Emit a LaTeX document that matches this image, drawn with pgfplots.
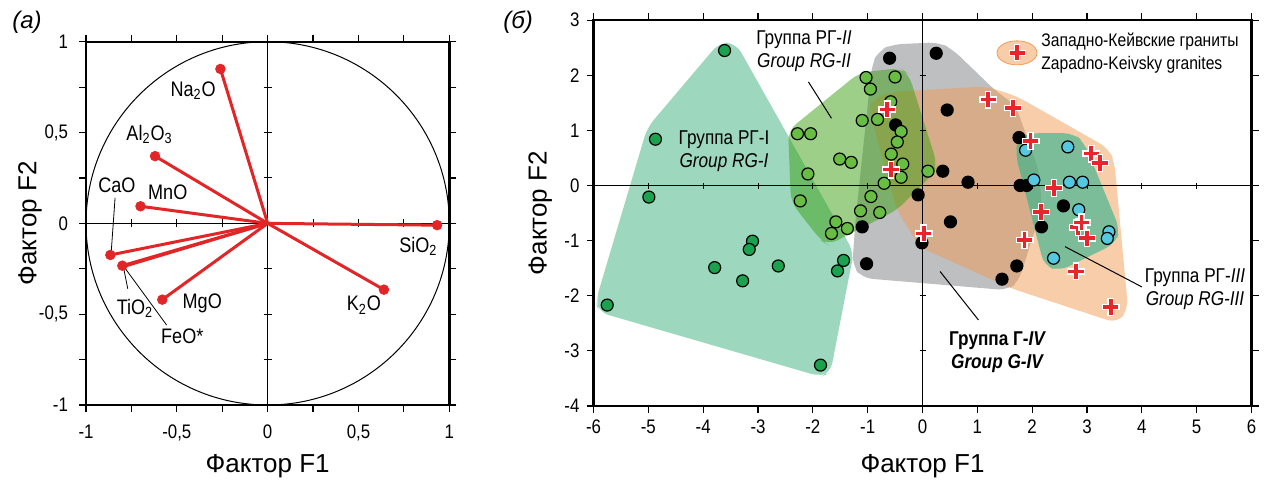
\documentclass[border=0pt]{standalone}
\usepackage{fontspec}
\setmainfont{Liberation Sans}
\newfontfamily\narrow[FakeStretch=0.86]{Liberation Sans}
\usepackage{pgfplots}
\pgfplotsset{compat=1.18}

\definecolor{vecred}{RGB}{226,38,40}
\definecolor{crossred}{RGB}{232,36,44}
\definecolor{rgIfill}{RGB}{60,175,125}
\definecolor{rgIIfill}{RGB}{60,160,20}
\definecolor{gIVfill}{RGB}{125,127,131}
\definecolor{zkfill}{RGB}{240,155,85}
\definecolor{rgIIIfill}{RGB}{40,180,140}
\definecolor{rgImark}{RGB}{28,162,78}
\definecolor{rgIImark}{RGB}{104,190,66}
\definecolor{rgIIImark}{RGB}{85,200,225}

\pgfdeclareplotmark{bigplus}{%
\pgfpathmoveto{\pgfpoint{-0.3\pgfplotmarksize}{-\pgfplotmarksize}}%
\pgfpathlineto{\pgfpoint{0.3\pgfplotmarksize}{-\pgfplotmarksize}}%
\pgfpathlineto{\pgfpoint{0.3\pgfplotmarksize}{-0.3\pgfplotmarksize}}%
\pgfpathlineto{\pgfpoint{\pgfplotmarksize}{-0.3\pgfplotmarksize}}%
\pgfpathlineto{\pgfpoint{\pgfplotmarksize}{0.3\pgfplotmarksize}}%
\pgfpathlineto{\pgfpoint{0.3\pgfplotmarksize}{0.3\pgfplotmarksize}}%
\pgfpathlineto{\pgfpoint{0.3\pgfplotmarksize}{\pgfplotmarksize}}%
\pgfpathlineto{\pgfpoint{-0.3\pgfplotmarksize}{\pgfplotmarksize}}%
\pgfpathlineto{\pgfpoint{-0.3\pgfplotmarksize}{0.3\pgfplotmarksize}}%
\pgfpathlineto{\pgfpoint{-\pgfplotmarksize}{0.3\pgfplotmarksize}}%
\pgfpathlineto{\pgfpoint{-\pgfplotmarksize}{-0.3\pgfplotmarksize}}%
\pgfpathlineto{\pgfpoint{-0.3\pgfplotmarksize}{-0.3\pgfplotmarksize}}%
\pgfpathclose
\pgfusepathqfillstroke}

\pgfplotsset{
  myframe/.style={
    scale only axis,
    axis line style={line width=1.2pt},
    tick style={black, line width=0.6pt},
    tick align=outside,
    major tick length=3.5pt,
    minor tick length=3.5pt,
    ticklabel style={font=\narrow\fontsize{9.8}{11}\selectfont},
    label style={font=\fontsize{13}{15}\selectfont},
  },
  vec/.style={vecred, line width=1.5pt},
  poly/.style={draw=none, fill opacity=0.5, rounded corners=5pt},
}

% ---------- data ----------
\pgfplotstableread{
x y
-3.61 2.45
-4.87 0.84
-4.99 -0.21
-5.75 -2.17
-3.10 -1.01
-3.16 -1.16
-3.79 -1.49
-3.28 -1.73
-2.63 -1.46
-1.44 -1.36
-1.55 -1.55
-1.86 -3.26
}\rgI
\pgfplotstableread{
x y
-1.03 1.96
-0.95 1.75
-0.50 1.97
-2.28 0.94
-2.04 0.94
-1.10 1.18
-0.82 1.20
-0.58 1.52
-0.39 0.98
-0.46 0.79
-0.57 0.57
-1.51 0.48
-1.30 0.42
-0.36 0.39
-0.39 0.15
-0.70 0.04
-2.09 0.21
-2.23 -0.28
-0.94 -0.20
-1.13 -0.46
-0.78 -0.49
-1.58 -0.66
-1.37 -0.78
-1.66 -0.87
0.10 0.26
}\rgII
\pgfplotstableread{
x y
-0.60 2.31
0.25 2.40
0.45 1.37
-0.49 1.10
0.37 0.26
0.83 0.06
1.76 0.87
1.78 0.00
1.90 0.00
-0.08 -0.17
0.51 -0.66
-1.10 -0.75
-0.01 -1.04
-1.02 -1.42
1.45 -1.70
1.72 -1.46
2.57 -0.37
2.17 -0.75
}\gIV
\pgfplotstableread{
x y
1.88 0.64
2.65 0.70
2.03 0.10
2.68 0.06
2.92 0.06
2.85 -0.44
3.40 -0.84
3.37 -0.96
2.39 -1.32
}\rgIII
\pgfplotstableread{
x y
-0.64 1.38
-0.58 0.29
0.02 -0.87
1.20 1.56
1.65 1.41
1.97 0.81
3.08 0.58
3.24 0.41
2.40 -0.05
2.16 -0.48
1.86 -0.99
2.83 -0.76
2.90 -0.67
3.00 -0.96
2.80 -1.56
3.43 -2.21
}\zk

\begin{document}
\begin{tikzpicture}
\useasboundingbox (0,0) rectangle (633pt,239.5pt);

\node[font=\itshape\fontsize{12}{14}\selectfont] at (13.5pt,228.5pt) {(a)};
\node[font=\itshape\fontsize{12}{14}\selectfont] at (259pt,228.5pt) {(б)};

% ================= (a) =================
\begin{axis}[myframe,
  at={(43pt,37pt)}, anchor=south west,
  width=181.65pt, height=181.65pt,
  xmin=-1, xmax=1, ymin=-1, ymax=1,
  xtick={-1,-0.5,0,0.5,1},
  xticklabels={-1,{-0,5},0,{0,5},1},
  ytick={-1,-0.5,0,0.5,1},
  yticklabels={-1,{-0,5},0,{0,5},1},
  minor xtick={-0.75,-0.25,0.25,0.75},
  minor ytick={-0.75,-0.25,0.25,0.75},
  xticklabel style={yshift=-3pt},
  yticklabel style={xshift=-2pt},
  xlabel={Фактор F1}, ylabel={Фактор F2},
  xlabel style={at={(axis description cs:0.5,-0.168)}, anchor=center},
  ylabel style={at={(axis description cs:-0.154,0.5)}, anchor=center},
  clip=false,
]
\draw[line width=0.5pt] (axis cs:0,0) circle [radius=1];
\draw[line width=0.5pt] (axis cs:-1,0) -- (axis cs:1,0);
\draw[line width=0.5pt] (axis cs:0,-1) -- (axis cs:0,1);
\pgfplotsinvokeforeach{-0.75,-0.5,-0.25,0.25,0.5,0.75}{
  \draw[line width=0.5pt] ([yshift=-2pt]axis cs:#1,0) -- ([yshift=2pt]axis cs:#1,0);
  \draw[line width=0.5pt] ([xshift=-2pt]axis cs:0,#1) -- ([xshift=2pt]axis cs:0,#1);
}
% leader lines
\draw[line width=0.4pt] (axis cs:-0.84,0.14) -- (axis cs:-0.862,-0.17);
\draw[line width=0.4pt] (axis cs:-0.77,-0.36) -- (axis cs:-0.795,-0.235);
\draw[line width=0.4pt] (axis cs:-0.556,-0.56) -- (axis cs:-0.79,-0.24);

\addplot[vec] coordinates {(0,0) (-0.26,0.85)};
\addplot[vec] coordinates {(0,0) (-0.62,0.37)};
\addplot[vec] coordinates {(0,0) (-0.70,0.094)};
\addplot[vec] coordinates {(0,0) (-0.866,-0.174)};
\addplot[vec] coordinates {(0,0) (-0.80,-0.233)};
\addplot[vec] coordinates {(0,0) (-0.795,-0.238)};
\addplot[vec] coordinates {(0,0) (-0.58,-0.42)};
\addplot[vec] coordinates {(0,0) (0.64,-0.365)};
\addplot[vec] coordinates {(0,0) (0.933,-0.01)};
\addplot[only marks, mark=*, mark size=2.4pt, vecred, mark options={fill=vecred, draw=vecred}]
  coordinates {(-0.26,0.85) (-0.62,0.37) (-0.70,0.094) (-0.866,-0.174) (-0.80,-0.233) (-0.58,-0.42) (0.64,-0.365) (0.933,-0.01)};

\begin{scope}[every node/.style={font=\narrow\fontsize{10.5}{12}\selectfont}]
\node at (axis cs:-0.41,0.73) {Na\textsubscript{2}O};
\node at (axis cs:-0.65,0.49) {Al\textsubscript{2}O\textsubscript{3}};
\node at (axis cs:-0.83,0.21) {CaO};
\node at (axis cs:-0.55,0.17) {MnO};
\node at (axis cs:-0.73,-0.47) {TiO\textsubscript{2}};
\node at (axis cs:-0.47,-0.62) {FeO*};
\node at (axis cs:-0.36,-0.44) {MgO};
\node at (axis cs:0.53,-0.45) {K\textsubscript{2}O};
\node at (axis cs:0.83,-0.125) {SiO\textsubscript{2}};
\end{scope}
\end{axis}

% ================= (б) =================
\begin{axis}[myframe,
  at={(296.75pt,36.55pt)}, anchor=south west,
  width=329pt, height=192.85pt,
  xmin=-6, xmax=6, ymin=-4, ymax=3,
  xtick={-6,-5,-4,-3,-2,-1,0,1,2,3,4,5,6},
  xticklabels={-6,-5,-4,-3,-2,-1,0,1,2,3,4,5,6},
  ytick={-4,-3,-2,-1,0,1,2,3},
  yticklabels={-4,-3,-2,-1,0,1,2,3},
  xlabel={Фактор F1}, ylabel={Фактор F2},
  xlabel style={at={(axis description cs:0.5,-0.156)}, anchor=center},
  ylabel style={at={(axis description cs:-0.081,0.5)}, anchor=center},
  legend style={at={(0.612,0.978)}, anchor=north west, draw=none, fill=none,
    inner sep=0pt, font=\narrow\fontsize{9.1}{11.5}\selectfont,
    cells={anchor=west, align=left}},
]
\addlegendimage{legend image code/.code={
  \fill[zkfill, fill opacity=0.5] (10pt,0pt) ellipse [x radius=10pt, y radius=6pt];
  \path[fill=crossred, draw=white, line width=0.5pt, shift={(10pt,0pt)}]
    (-1.2pt,-4pt) -- (1.2pt,-4pt) -- (1.2pt,-1.2pt) -- (4pt,-1.2pt) -- (4pt,1.2pt) -- (1.2pt,1.2pt)
    -- (1.2pt,4pt) -- (-1.2pt,4pt) -- (-1.2pt,1.2pt) -- (-4pt,1.2pt) -- (-4pt,-1.2pt) -- (-1.2pt,-1.2pt) -- cycle;
}}
\addlegendentry{Западно-Кейвские граниты\\Zapadno-Keivsky granites}

% polygons
\addplot[poly, fill=gIVfill] coordinates {(-0.80,2.45) (-0.55,2.56) (0.30,2.60) (0.55,2.47) (1.32,1.73) (1.70,1.45) (2.12,0.28) (2.18,-0.40) (1.75,-1.75) (1.55,-1.90) (-1.10,-1.68) (-1.28,-1.45) (-1.22,-0.60) (-0.92,2.20)} -- cycle;
\addplot[poly, fill=zkfill] coordinates {(-0.90,1.58) (-0.55,1.70) (1.15,1.80) (1.72,1.62) (3.40,0.67) (3.50,0.42) (3.75,-2.25) (3.55,-2.50) (1.60,-1.86) (-0.05,-1.12) (-0.47,-0.44) (-0.98,1.40)} -- cycle;
\addplot[poly, fill=rgIfill] coordinates {(-3.70,2.60) (-3.40,2.58) (-1.25,-1.22) (-1.30,-1.45) (-1.68,-3.40) (-1.85,-3.47) (-5.90,-2.30) (-5.96,-2.10) (-5.02,1.05)} -- cycle;
\addplot[poly, fill=rgIIfill] coordinates {(-2.45,1.00) (-1.15,2.05) (-0.40,2.13) (-0.25,2.02) (0.27,0.38) (0.20,0.22) (-0.46,-0.44) (-1.72,-1.08) (-1.85,-1.00) (-2.40,-0.30)} -- cycle;
\addplot[poly, fill=rgIIIfill, fill opacity=0.6] coordinates {(1.73,0.86) (1.95,0.95) (2.75,0.95) (2.95,0.78) (3.60,-0.80) (3.52,-1.05) (2.50,-1.55) (2.22,-1.46) (1.70,0.55)} -- cycle;

% axes through origin with ticks
\draw[line width=0.5pt] (axis cs:-6,0) -- (axis cs:6,0);
\draw[line width=0.5pt] (axis cs:0,-4) -- (axis cs:0,3);
\pgfplotsinvokeforeach{-5,-4,-3,-2,-1,1,2,3,4,5}{
  \draw[line width=0.5pt] ([yshift=-1.5pt]axis cs:#1,0) -- ([yshift=1.5pt]axis cs:#1,0);
}
\pgfplotsinvokeforeach{-3,-2,-1,1,2}{
  \draw[line width=0.5pt] ([xshift=-1.5pt]axis cs:0,#1) -- ([xshift=1.5pt]axis cs:0,#1);
}

% leader lines
\draw[line width=0.5pt] (axis cs:-2.08,1.88) -- (axis cs:-1.66,1.22);
\draw[line width=0.5pt] (axis cs:0.32,-1.56) -- (axis cs:1.02,-2.44);
\draw[line width=0.5pt] (axis cs:2.60,-1.11) -- (axis cs:4.00,-1.84);

% points
\addplot[only marks, mark=*, mark size=3pt, mark options={fill=black, draw=black, line width=0.6pt}] table {\gIV};
\addplot[only marks, mark=*, mark size=3pt, mark options={fill=rgImark, draw=black, line width=0.6pt}] table {\rgI};
\addplot[only marks, mark=*, mark size=3pt, mark options={fill=rgIImark, draw=black, line width=0.6pt}] table {\rgII};
\addplot[only marks, mark=*, mark size=3pt, mark options={fill=rgIIImark, draw=black, line width=0.6pt}] table {\rgIII};
\addplot[only marks, mark=bigplus, mark size=4.2pt, mark options={fill=crossred, draw=white, line width=0.6pt}] table {\zk};

% annotations
\begin{scope}[every node/.style={font=\narrow\fontsize{10}{11.5}\selectfont, align=center}]
\node at (axis cs:-3.62,0.62) {Группа РГ-I\\\textit{Group RG-I}};
\node at (axis cs:-2.16,2.43) {Группа РГ-\textit{II}\\\textit{Group RG-II}};
\node at (axis cs:4.97,-1.88) {Группа РГ-\textit{III}\\\textit{Group RG-III}};
\node at (axis cs:1.37,-3.02) {\textbf{Группа Г-\textit{IV}}\\\textbf{\textit{Group G-IV}}};
\end{scope}
\end{axis}
\end{tikzpicture}
\end{document}
